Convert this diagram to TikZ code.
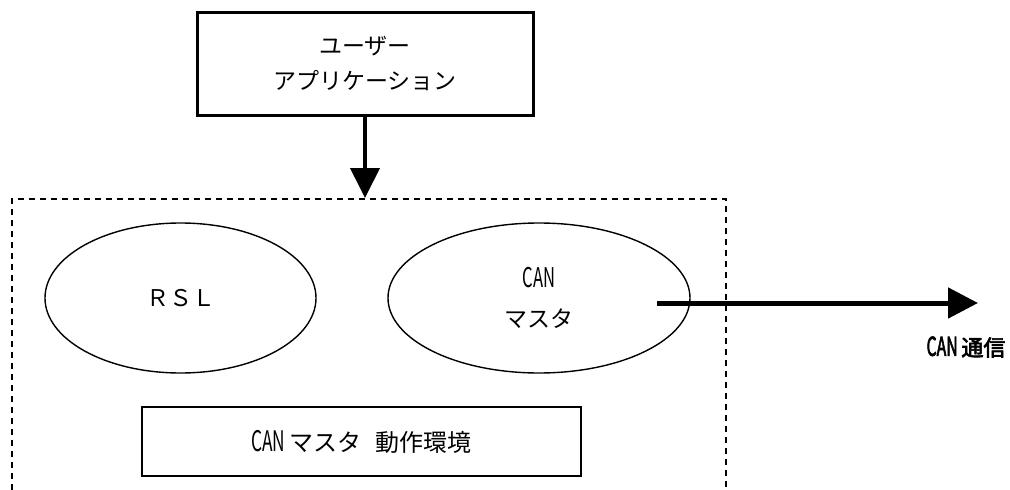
\documentclass[tikz,border=0pt]{standalone}
\usepackage{fontspec}
\setmainfont{Noto Sans CJK JP}[AutoFakeBold=3]
\usetikzlibrary{arrows.meta,shapes.geometric}
\newcommand{\nar}[1]{\scalebox{0.72}[1.18]{#1}}
\tikzset{
  thickbox/.style={draw, line width=3pt, minimum width=336pt, minimum height=103pt, align=center, font=\fontsize{23}{35}\selectfont},
  blob/.style={draw, ellipse, line width=1.4pt, font=\fontsize{23}{40}\selectfont, align=center},
  envbox/.style={draw, line width=2pt, minimum width=439pt, minimum height=69pt, font=\fontsize{24}{26}\selectfont},
  dashframe/.style={line width=1.5pt, dash pattern=on 6pt off 5pt},
  bigarrow/.style={line width=5pt, -{Triangle[length=30pt,width=30pt]}},
  lbl/.style={font=\bfseries\fontsize{22}{24}\selectfont}
}
\begin{document}
\begin{tikzpicture}[x=1pt,y=-1pt]
\useasboundingbox (0,0) rectangle (1010,490);
\node[thickbox] (app) at (365,63.5) {ユーザー\\アプリケーション};
% dashed environment frame (open at the bottom)
\coordinate (fbl) at (12,490);
\coordinate (ftl) at (12,199);
\coordinate (ftr) at (726,199);
\coordinate (fbr) at (726,490);
\draw[dashframe] (fbl) -- (ftl) -- (ftr) -- (fbr);
\coordinate (apptarget) at (365,198);
\draw[line width=4pt, -{Triangle[length=30pt,width=29pt]}] (app.south) -- (apptarget);
\node[blob, minimum width=271pt, minimum height=150pt] (rsl) at (180.5,298) {ＲＳＬ};
\node[blob, minimum width=302pt, minimum height=150pt] (can) at (539,298) {\nar{CAN}\\マスタ};
\node[envbox] (env) at (361.5,441.5) {\nar{CAN}\,マスタ\hspace{0.6em}動作環境};
\coordinate (canout) at (657,303);
\coordinate (busend) at (978,303);
\draw[bigarrow] (canout) -- (busend);
\node[lbl, anchor=center] (buslabel) at (966,347) {\nar{CAN}\,通信};
\end{tikzpicture}
\end{document}
